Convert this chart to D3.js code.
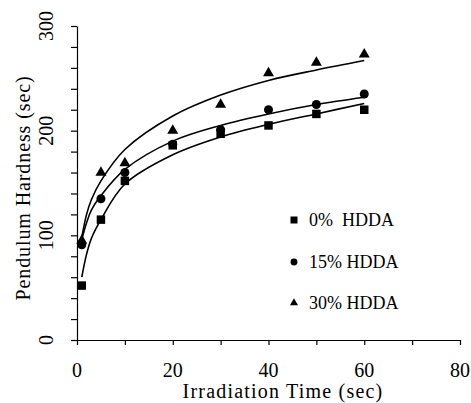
<!doctype html>
<html lang="en">
<head>
    <title></title>
    <script src="https://d3js.org/d3.v7.min.js"></script>
    <style type="text/css">
    body { margin:0; background:#fff; }
    text { font-family:"Liberation Serif", "Times New Roman", serif; fill:#000; }
    .fit { fill:none; stroke:#000; stroke-width:1.6; }
    .axis line, .axis path { stroke:#000; stroke-width:1.2; }
    </style>
</head>

<body>
</body>

<script type="text/javascript">

  // measured data
  var times    = [1, 5, 10, 20, 30, 40, 50, 60]
  var hdda0    = [52, 115, 152, 186, 197, 205, 216, 220]
  var hdda15   = [91, 135, 160, 187, 201, 220, 225, 235]
  var hdda30   = [95, 160, 169, 200, 225, 255, 265, 273]

  // fitted curves
  var fitTimes = [1, 2, 3, 5, 10, 20, 30, 40, 50, 60]
  var fit0     = [60, 82, 97, 115, 149, 177, 194, 206, 216, 226]
  var fit15    = [96, 112, 124, 138, 163, 190, 205, 216, 225, 232]
  var fit30    = [98, 120, 134, 152, 182, 214, 234, 248, 258, 267]

  var legendLabels = ["0%  HDDA", "15% HDDA", "30% HDDA"]
  var xTicks = [0, 20, 40, 60, 80]
  var yTicks = [0, 100, 200, 300]

  var width = 471, height = 403
  var margin = {top:26, bottom:63, left:77, right:11}

  var xScale = d3.scaleLinear()
    .domain([0,80])
    .range([margin.left, width - margin.right])

  var yScale = d3.scaleLinear()
    .domain([0,300])
    .range([height - margin.bottom, margin.top])

  var svg = d3.select("body")
  .append("svg")
  .attr("width", width)
  .attr("height", height)

  // axes
  var xAxis = d3.axisBottom(xScale).tickValues(d3.range(0,81,10)).tickFormat("").tickSize(5).tickSizeOuter(0)
  var yAxis = d3.axisLeft(yScale).tickValues(d3.range(0,301,20)).tickFormat("").tickSize(6).tickSizeOuter(0)

  svg.append("g")
  .attr("class", "x axis")
  .attr("transform", "translate(0,"+yScale(0)+")")
  .call(xAxis)

  svg.append("g")
  .attr("class", "y axis")
  .attr("transform", "translate("+xScale(0)+",0)")
  .call(yAxis)

  svg.selectAll(".xlab")
  .data(xTicks)
  .enter()
  .append("text")
  .attr("x", d=>xScale(d))
  .attr("y", 377)
  .attr("text-anchor", "middle")
  .style("font-size", "20px")
  .text(d=>d)

  svg.selectAll(".ylab")
  .data(yTicks)
  .enter()
  .append("text")
  .attr("transform", d=>"translate(53,"+yScale(d)+") rotate(-90)")
  .attr("text-anchor", "middle")
  .style("font-size", "20px")
  .text(d=>d)

  svg.append("text")
  .attr("x", 283)
  .attr("y", 398)
  .attr("text-anchor", "middle")
  .style("font-size", "20px")
  .style("letter-spacing", "1.2px")
  .text("Irradiation Time (sec)")

  svg.append("text")
  .attr("transform", "translate(30,188) rotate(-90)")
  .attr("text-anchor", "middle")
  .style("font-size", "20px")
  .style("letter-spacing", "0.9px")
  .text("Pendulum Hardness (sec)")

  // fit lines
  var line = d3.line()
  .x(d=>xScale(d[0]))
  .y(d=>yScale(d[1]))
  .curve(d3.curveCatmullRom.alpha(0.5));

  [fit0, fit15, fit30].forEach(f=>{
    svg.append("path")
    .attr("class", "fit")
    .attr("d", line(fitTimes.map((t,i)=>[t, f[i]])))
  })

  // markers
  var shapes = [d3.symbolSquare, d3.symbolCircle, d3.symbolTriangle]
  var sizes = [72, 64, 52]
  var legendSizes = [49, 38, 28]
  var series = [hdda0, hdda15, hdda30]

  series.forEach((s,k)=>{
    svg.selectAll(".pt"+k)
    .data(times.map((t,i)=>[t, s[i]]))
    .enter()
    .append("path")
    .attr("d", d3.symbol().type(shapes[k]).size(sizes[k]))
    .attr("transform", d=>"translate("+xScale(d[0])+","+yScale(d[1])+")")
    .style("fill", "#000")
  })

  // legend
  var legendY = [220, 262, 303]
  legendLabels.forEach((lab,k)=>{
    svg.append("path")
    .attr("d", d3.symbol().type(shapes[k]).size(legendSizes[k]))
    .attr("transform", "translate(294,"+legendY[k]+")")
    .style("fill", "#000")
    svg.append("text")
    .attr("x", 309)
    .attr("y", legendY[k]+6)
    .style("font-size", "18px")
    .attr("xml:space", "preserve")
    .text(lab)
  })

</script>
</html>
